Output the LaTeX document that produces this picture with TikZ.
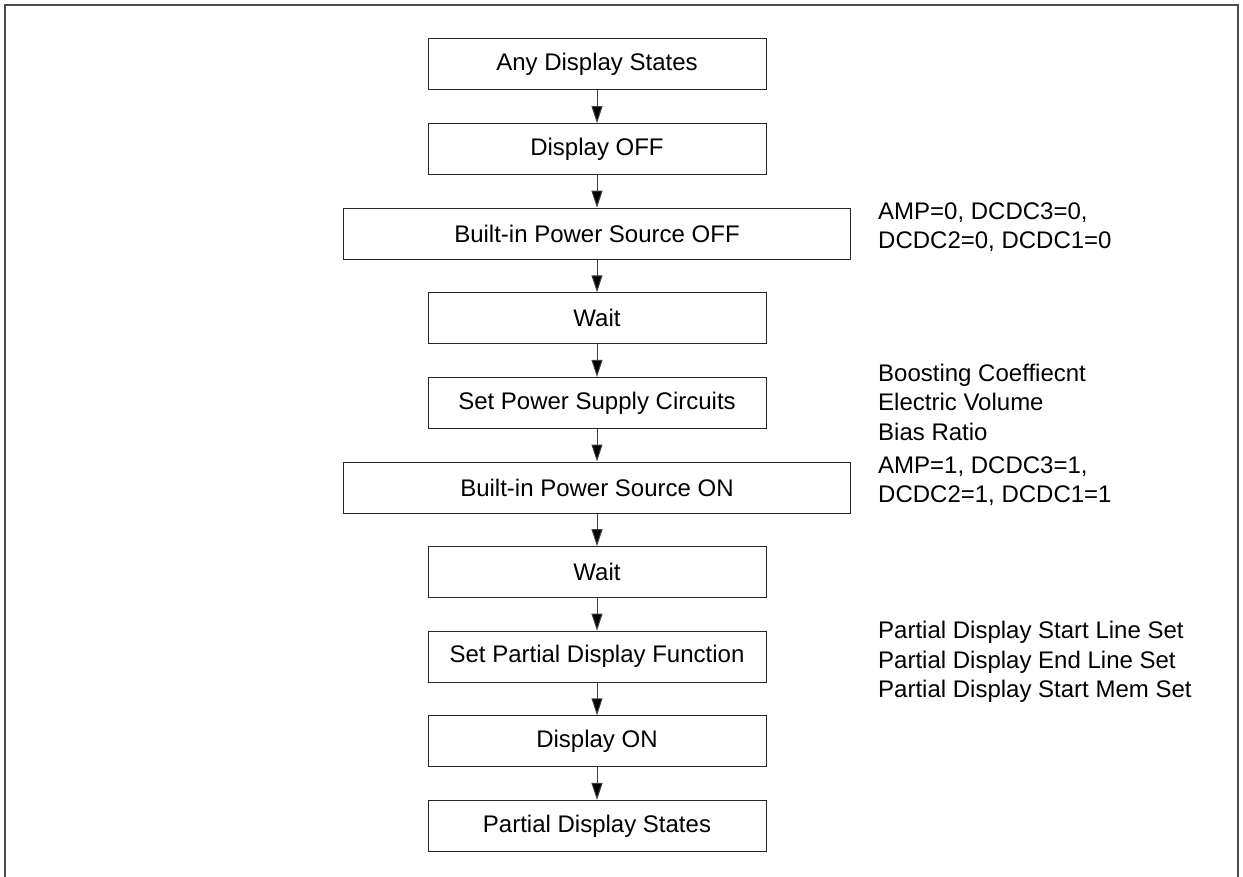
\documentclass[tikz,border=0pt]{standalone}
\usepackage{fontspec}
\setmainfont{Liberation Sans}
\usetikzlibrary{arrows.meta}
\tikzset
{
	my box/.style={draw=black!85,line width=1pt,minimum width=338pt,minimum height=51pt,inner sep=0pt},
	my wide box/.style={my box,minimum width=507pt},
	my note/.style={anchor=west,align=left,inner sep=0pt},
	my arrow/.style={draw=black!75,line width=1pt,-{Triangle[length=17pt,width=11pt,fill=black]}}
}

\begin{document}
\begin{tikzpicture}[x=1pt,y=-1pt,font=\fontsize{24}{29.5}\selectfont]
		\useasboundingbox (0,0) rectangle (1243,877);
		% frame
		\draw[black!70,line width=2pt] (5,880) -- (5,5) -- (1238,5) -- (1238,880);
		% boxes
		\foreach[count=\j]\t/\s in {Any Display States/my box,Display OFF/my box,
			Built-in Power Source OFF/my wide box,Wait/my box,Set Power Supply Circuits/my box,
			Built-in Power Source ON/my wide box,Wait/my box,Set Partial Display Function/my box,
			Display ON/my box,Partial Display States/my box}
		\node[\s] (b\j) at (597,{64.5+84.6*(\j-1)}) {\t};
		% arrows
		\foreach\i in {1,...,9}
		{
			\pgfmathtruncatemacro\k{\i+1}
			\draw[my arrow] (b\i) -- (b\k);
		}
		% notes
		\node[my note] (n1) at (878,227) {AMP=0, DCDC3=0,\\DCDC2=0, DCDC1=0};
		\node[my note] (n2) at (878,402) {Boosting Coeffiecnt\\Electric Volume\\Bias Ratio};
		\node[my note] (n3) at (878,481) {AMP=1, DCDC3=1,\\DCDC2=1, DCDC1=1};
		\node[my note] (n4) at (878,662) {Partial Display Start Line Set\\Partial Display End Line Set\\Partial Display Start Mem Set};
	\end{tikzpicture}
\end{document}
